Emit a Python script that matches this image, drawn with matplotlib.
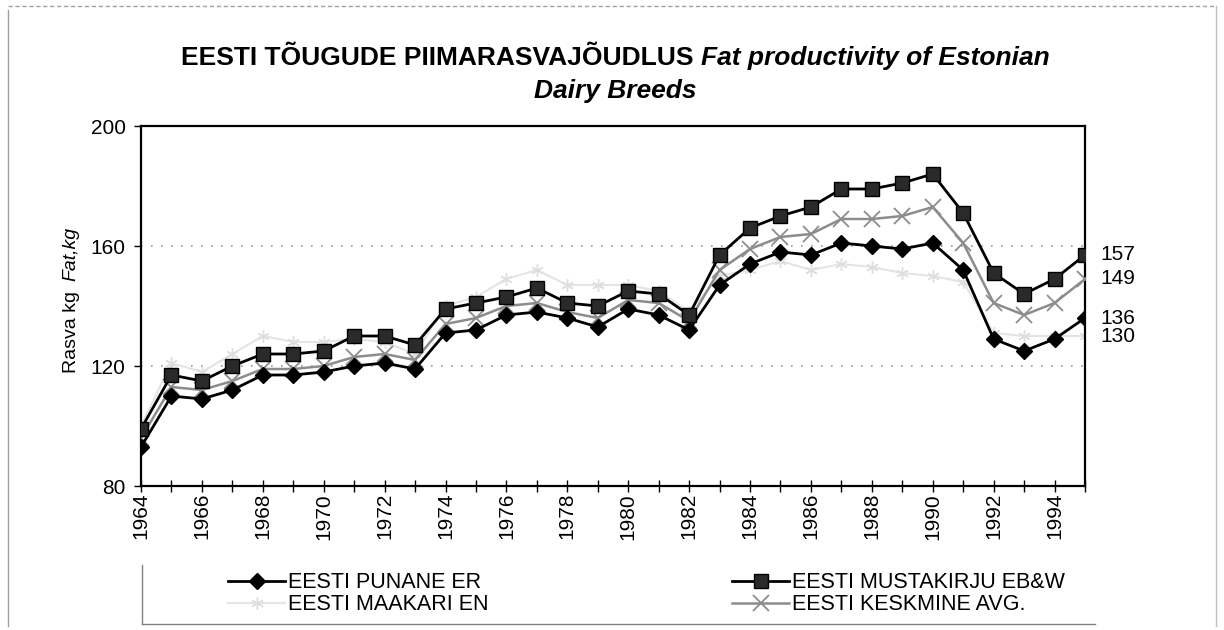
import matplotlib
matplotlib.use("Agg")
import matplotlib.pyplot as plt
from matplotlib.lines import Line2D

plt.rcParams['font.family'] = ['Liberation Sans', 'DejaVu Sans']

years = list(range(1964, 1996))
punane = [93, 110, 109, 112, 117, 117, 118, 120, 121, 119, 131, 132, 137, 138, 136, 133,
          139, 137, 132, 147, 154, 158, 157, 161, 160, 159, 161, 152, 129, 125, 129, 136]
mustakirju = [99, 117, 115, 120, 124, 124, 125, 130, 130, 127, 139, 141, 143, 146, 141, 140,
              145, 144, 137, 157, 166, 170, 173, 179, 179, 181, 184, 171, 151, 144, 149, 157]
maakari = [100, 121, 118, 124, 130, 128, 128, 129, 128, 124, 140, 143, 149, 152, 147, 147,
           147, 145, 138, 150, 152, 155, 152, 154, 153, 151, 150, 148, 131, 130, 130, 130]
keskmine = [96, 113, 112, 115, 119, 119, 120, 123, 124, 122, 134, 136, 140, 141, 138, 136,
            142, 141, 135, 152, 159, 163, 164, 169, 169, 170, 173, 161, 141, 137, 141, 149]

labels = ["EESTI PUNANE ER", "EESTI MUSTAKIRJU EB&W", "EESTI MAAKARI EN", "EESTI KESKMINE AVG."]
end_labels = ["136", "157", "130", "149"]
yticks = [80, 120, 160, 200]
xticks = list(range(1964, 1996, 2))

W, H = 1224, 630
fig = plt.figure(figsize=(W / 100, H / 100), dpi=100)
ax = fig.add_axes([141 / W, 1 - 486 / H, (1085 - 141) / W, (486 - 126) / H])

maa_style = dict(color='#e4e4e4', lw=1.5, marker=(6, 2, 0), ms=9, mec='#dedede', mew=1.0)
kes_style = dict(color='#8c8c8c', lw=1.8, marker='x', ms=11, mec='#8c8c8c', mew=1.3)
pun_style = dict(color='black', lw=2.0, marker='D', ms=8.5, mfc='black', mec='black')
mus_style = dict(color='black', lw=2.0, marker='s', ms=10, mfc='#2a2a2a', mec='black')

ax.plot(years, maakari, zorder=2, **maa_style)
ax.plot(years, keskmine, zorder=3, **kes_style)
ax.plot(years, punane, zorder=4, **pun_style)
ax.plot(years, mustakirju, zorder=5, **mus_style)

for series, lab in zip([punane, mustakirju, maakari, keskmine], end_labels):
    ax.annotate(lab, xy=(years[-1], series[-1]), xytext=(11, 0), textcoords='offset points',
                ha='left', va='center', fontsize=15, color='black', annotation_clip=False)

ax.set_xlim(1964, 1995)
ax.set_ylim(80, 200)
ax.set_yticks(yticks)
ax.set_xticks(xticks)
ax.set_xticks(years, minor=True)
ax.set_xticklabels([str(x) for x in xticks], rotation=90)
ax.tick_params(axis='x', which='both', direction='inout', length=8, width=1, labelsize=15, pad=1)
ax.tick_params(axis='y', direction='out', length=5, width=1, labelsize=15, pad=6)
for s in ax.spines.values():
    s.set_linewidth(1.6)
    s.set_color('black')
for yv in [120, 160]:
    ax.axhline(yv, color='#9a9a9a', lw=1.2, ls=(0, (1, 5)), zorder=1)

fig.canvas.draw()
r = fig.canvas.get_renderer()


def mixed_line(parts, cx, y, size):
    texts = []
    for s, style in parts:
        t = fig.text(0, y, s, fontsize=size, fontweight='bold', fontstyle=style,
                     ha='left', va='baseline', transform=None)
        texts.append(t)
    widths = [t.get_window_extent(r).width for t in texts]
    x = cx - sum(widths) / 2
    for t, w in zip(texts, widths):
        t.set_x(x)
        x += w


mixed_line([("EESTI TÕUGUDE PIIMARASVAJÕUDLUS ", 'normal'),
            ("Fat productivity of Estonian", 'italic')], 615, H - 65, 19)
mixed_line([("Dairy Breeds", 'italic')], 615, H - 98, 19)

# y label with mixed styles (rotated)
ty1 = fig.text(0, 0, "Rasva kg  ", fontsize=14, rotation=90, rotation_mode='anchor',
               ha='left', va='center', transform=None)
ty2 = fig.text(0, 0, "Fat,kg", fontsize=14, fontstyle='italic', rotation=90,
               rotation_mode='anchor', ha='left', va='center', transform=None)
h1 = ty1.get_window_extent(r).height
h2 = ty2.get_window_extent(r).height
ylx = 71
ybase = H - 300 - (h1 + h2) / 2
ty1.set_position((ylx, ybase))
ty2.set_position((ylx, ybase + h1))

# Legend
handles = [
    Line2D([], [], **pun_style),
    Line2D([], [], **maa_style),
    Line2D([], [], **mus_style),
    Line2D([], [], **kes_style),
]
leg_labels = [labels[0], labels[2], labels[1], labels[3]]
leg = fig.legend(handles, leg_labels, ncol=2, loc='upper left',
                 bbox_to_anchor=(213 / W, 1 - 557 / H), frameon=False, fontsize=15.5,
                 handlelength=2.65, handletextpad=0.15, labelspacing=0.05,
                 columnspacing=11.3, borderpad=0.2)

# Legend box (left and bottom edges) and figure border
fig.add_artist(Line2D([142 / W, 142 / W], [1 - 565 / H, 1 - 624 / H], transform=fig.transFigure,
                      color='#808080', lw=1.0))
fig.add_artist(Line2D([142 / W, 1095 / W], [1 - 624 / H, 1 - 624 / H], transform=fig.transFigure,
                      color='#808080', lw=1.0))
fig.add_artist(Line2D([8 / W, 8 / W], [1 - 10 / H, 1 - 626 / H], transform=fig.transFigure,
                      color='#a0a0a0', lw=1.0))
fig.add_artist(Line2D([8 / W, 1216 / W], [1 - 6 / H, 1 - 6 / H], transform=fig.transFigure,
                      color='#a0a0a0', lw=1.0, ls=(0, (3, 2))))
fig.add_artist(Line2D([1216 / W, 1216 / W], [1 - 6 / H, 1 - 626 / H], transform=fig.transFigure,
                      color='#c0c0c0', lw=1.0))

fig.savefig("out.png", dpi=100)
